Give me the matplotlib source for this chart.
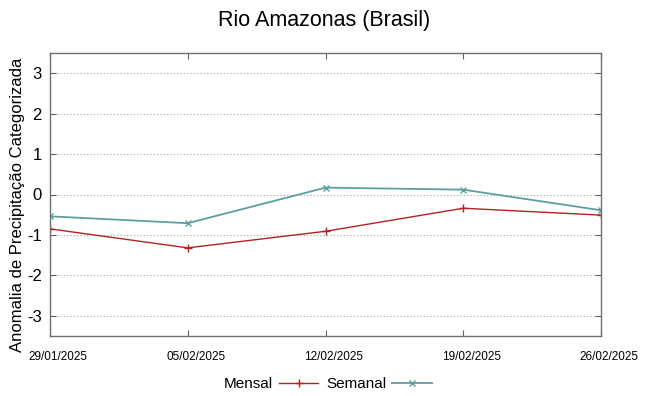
import matplotlib
matplotlib.use("Agg")
import matplotlib.pyplot as plt
import matplotlib.transforms as mtransforms

dates = ["29/01/2025", "05/02/2025", "12/02/2025", "19/02/2025", "26/02/2025"]
mensal = [-0.85, -1.32, -0.91, -0.34, -0.51]
semanal = [-0.54, -0.71, 0.17, 0.12, -0.39]
yticks = [-3, -2, -1, 0, 1, 2, 3]

plt.rcParams['font.family'] = ['Liberation Sans', 'DejaVu Sans']

fig = plt.figure(figsize=(6.49, 3.96), dpi=100)
ax = fig.add_axes([50/649, 60/396, 551/649, 283/396])

x = list(range(len(dates)))
ax.plot(x, mensal, color='#b22222', lw=1.0, marker='+', ms=6, mew=1.0, label='Mensal')
ax.plot(x, semanal, color='#5f9ea0', lw=1.3, marker='x', ms=5, mew=1.0, label='Semanal')

ax.set_xlim(0, 4)
ax.set_ylim(-3.5, 3.5)
ax.set_yticks(yticks)
ax.set_yticklabels([str(v) for v in yticks], fontsize=12)
ax.set_xticks(x)
ax.set_xticklabels([])
off = mtransforms.ScaledTranslation(8/100, -21/100, fig.dpi_scale_trans)
for xi, d in zip(x, dates):
    ax.text(xi, 0, d, transform=ax.get_xaxis_transform() + off,
            ha='center', va='center', fontsize=8.5)
ax.yaxis.grid(True, linestyle=(0, (1, 2)), color='#a0a0a0', lw=0.8)
ax.tick_params(axis='both', direction='in', length=4, color='#606060', top=True, right=True)
ax.tick_params(axis='y', pad=6)
for s in ax.spines.values():
    s.set_color('#707070')
    s.set_linewidth(1.0)

ax.set_ylabel('Anomalia de Precipitação Categorizada', fontsize=12)
ax.yaxis.set_label_coords(-0.045, 0.463)
fig.suptitle('Rio Amazonas (Brasil)', fontsize=15.5, y=0.975)

leg = fig.legend(loc='center', bbox_to_anchor=(0.505, 12/396), ncol=2, frameon=False,
                 markerfirst=False, fontsize=11, handlelength=2.6, columnspacing=0.5, handletextpad=0.4)

fig.savefig('out.png', dpi=100)
